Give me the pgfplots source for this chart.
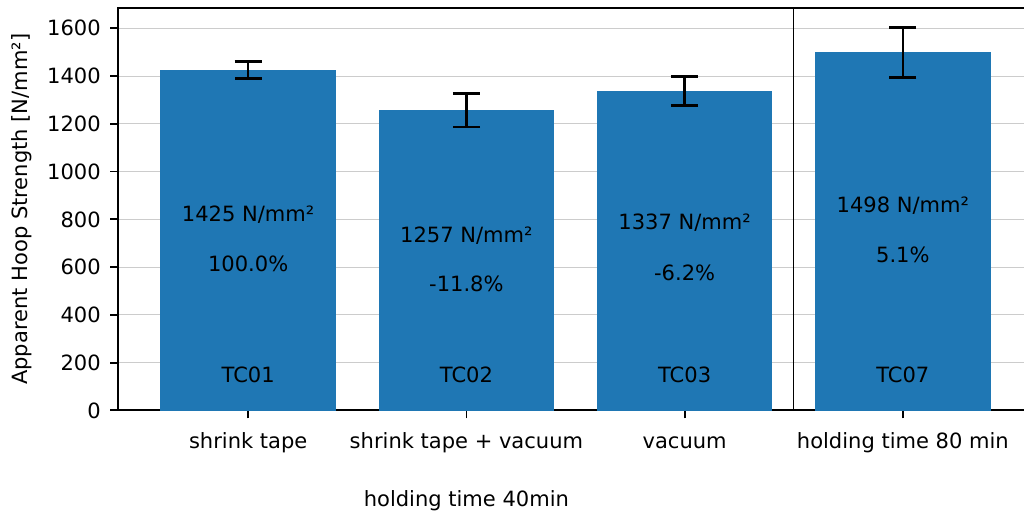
\documentclass[border=0pt]{standalone}
\usepackage{pgfplots}
\pgfplotsset{compat=1.18}
\usepackage{fontspec}
\setmainfont{DejaVu Sans}
\definecolor{tabblue}{HTML}{1F77B4}
\newcommand{\fs}{\fontsize{10.5pt}{12pt}\selectfont}
\begin{document}
\fs
\begin{tikzpicture}
\begin{axis}[
  scale only axis,
  width=454pt, height=201pt,
  xmin=-0.596, xmax=3.569,
  ymin=0, ymax=1685,
  xtick={0,1,2,3},
  xticklabels={shrink tape, shrink tape + vacuum, vacuum, holding time 80 min},
  ytick={0,200,400,600,800,1000,1200,1400,1600},
  /pgf/number format/assume math mode=true,
  /pgf/number format/1000 sep={},
  tick label style={font=\fs},
  ymajorgrids,
  grid style={color=black!20, line width=0.5pt},
  axis line style={line width=0.9pt},
  tick style={black, line width=0.9pt},
  tick align=outside,
  major tick length=4pt,
  xtick pos=bottom, ytick pos=left,
  xticklabel style={anchor=center, text height=8pt, text depth=2.5pt, yshift=-12.5pt},
  yticklabel style={xshift=-1pt},
  clip=false,
]
\coordinate (O) at (rel axis cs:0,0);
\coordinate (M) at (rel axis cs:0,0.5);
\addplot[ybar, bar width=0.8, fill=tabblue, draw=tabblue, line width=0pt,
  error bars/.cd, y dir=both, y explicit,
  error bar style={black, line width=1.3pt},
  error mark options={black, line width=1.3pt, rotate=90, mark size=6.8pt}]
  table[x=x, y=y, y error=e] {
x y e
0 1425 35
1 1257 70
2 1337 60
3 1498 105
};
\addplot[black, line width=0.6pt] coordinates {(2.5,0) (2.5,1685)};
\node at (axis cs:0,821) {1425 N/mm²};
\node at (axis cs:0,612) {100.0\%};
\node at (axis cs:0,147) {TC01};
\node at (axis cs:1,733) {1257 N/mm²};
\node at (axis cs:1,528) {-11.8\%};
\node at (axis cs:1,147) {TC02};
\node at (axis cs:2,784) {1337 N/mm²};
\node at (axis cs:2,574) {-6.2\%};
\node at (axis cs:2,147) {TC03};
\node at (axis cs:3,859) {1498 N/mm²};
\node at (axis cs:3,650) {5.1\%};
\node at (axis cs:3,147) {TC07};
\coordinate (L) at (axis cs:1,0);
\end{axis}
\node at ([yshift=-45pt]L) {holding time 40min};
\node[rotate=90] at ([xshift=-48pt]M) {Apparent Hoop Strength [N/mm²]};
\pgfresetboundingbox
\path[use as bounding box] ([xshift=-59pt,yshift=-54.5pt]O) rectangle ([xshift=452.5pt,yshift=205pt]O);
\end{tikzpicture}
\end{document}
